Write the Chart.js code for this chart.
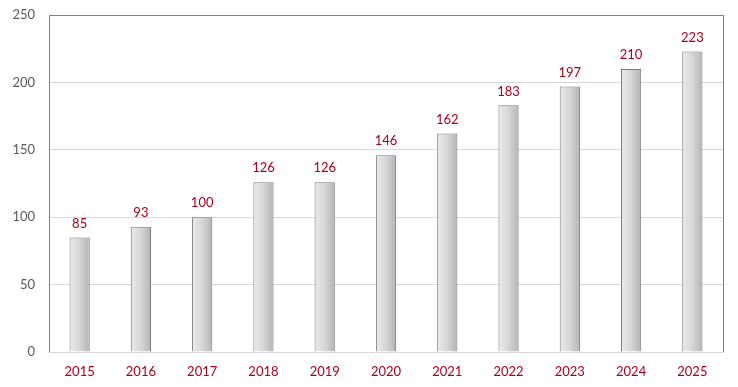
<!DOCTYPE html>
<html><head><meta charset="utf-8">
<script src="https://cdn.jsdelivr.net/npm/chart.js@4/dist/chart.umd.min.js"></script>
<style>html,body{margin:0;padding:0;background:#fff}#wrap{width:738px;height:387px}</style>
</head><body><div id="wrap"><canvas id="c" width="738" height="387"></canvas></div>
<script>
const categories = ['2015','2016','2017','2018','2019','2020','2021','2022','2023','2024','2025'];
const values = [85, 93, 100, 126, 126, 146, 162, 183, 197, 210, 223];
const yTicks = [0, 50, 100, 150, 200, 250];

const RED = '#a8001c';
const FONT = 'Lato, "Open Sans", sans-serif';
const BAR_FRAC = 0.33;

const labelPlugin = {
  id: 'labels',
  afterDatasetsDraw(chart) {
    const ctx = chart.ctx;
    const meta = chart.getDatasetMeta(0);
    ctx.save();
    ctx.fillStyle = RED;
    ctx.font = '13px ' + FONT;
    ctx.textAlign = 'center';
    ctx.textBaseline = 'middle';
    meta.data.forEach((bar, i) => {
      ctx.fillText(String(values[i]), bar.x, bar.y - 14);
    });
    ctx.restore();
  }
};
const framePlugin = {
  id: 'frame',
  afterDraw(chart) {
    const a = chart.chartArea, ctx = chart.ctx;
    ctx.save();
    ctx.strokeStyle = '#808080';
    ctx.lineWidth = 1;
    ctx.beginPath();
    ctx.moveTo(Math.round(a.left) + 0.5, Math.round(a.bottom));
    ctx.lineTo(Math.round(a.left) + 0.5, Math.round(a.top) + 0.5);
    ctx.lineTo(Math.round(a.right) + 0.5, Math.round(a.top) + 0.5);
    ctx.lineTo(Math.round(a.right) + 0.5, Math.round(a.bottom));
    ctx.stroke();
    ctx.restore();
  }
};

new Chart(document.getElementById('c'), {
  type: 'bar',
  data: {
    labels: categories,
    datasets: [{
      data: values,
      barPercentage: 1,
      categoryPercentage: BAR_FRAC,
      borderColor: '#7a7a7a',
      borderWidth: 1,
      borderSkipped: 'bottom',
      backgroundColor: (c) => {
        const chart = c.chart;
        const xs = chart.scales.x;
        if (!xs || !chart.chartArea) return '#d0d0d0';
        const cx = xs.getPixelForValue(c.dataIndex);
        const w = (chart.chartArea.width / categories.length) * BAR_FRAC;
        const g = chart.ctx.createLinearGradient(cx - w / 2, 0, cx + w / 2, 0);
        g.addColorStop(0, '#ececec');
        g.addColorStop(0.5, '#d6d6d6');
        g.addColorStop(1, '#b4b4b4');
        return g;
      }
    }]
  },
  options: {
    responsive: false,
    animation: false,
    devicePixelRatio: 1,
    layout: { padding: { top: 15, right: 15, left: 0, bottom: 0 } },
    plugins: { legend: { display: false }, tooltip: { enabled: false } },
    scales: {
      x: {
        grid: { display: false, drawTicks: false },
        border: { color: '#d9d9d9' },
        ticks: { color: RED, font: { family: FONT, size: 13 }, padding: 12 },
        afterFit: s => { s.height = 35; }
      },
      y: {
        min: 0, max: 250,
        afterBuildTicks: s => { s.ticks = yTicks.map(v => ({ value: v })); },
        grid: { color: '#d9d9d9', drawTicks: false },
        border: { display: false },
        ticks: { color: '#595959', font: { family: FONT, size: 13, lineHeight: 0.5 }, padding: 14 },
        afterFit: s => { s.width = 49; s.paddingTop = 0; s.paddingBottom = 0; }
      }
    }
  },
  plugins: [labelPlugin, framePlugin]
});
</script></body></html>
